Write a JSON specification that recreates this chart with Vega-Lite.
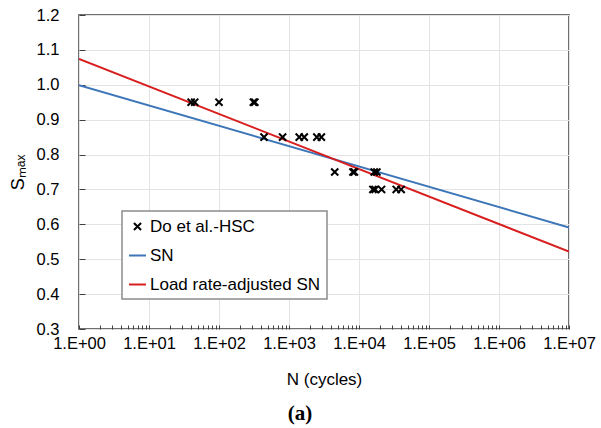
{
  "$schema": "https://vega.github.io/schema/vega-lite/v6.json",
  "width": 490,
  "height": 314,
  "autosize": {"type": "none"},
  "padding": {"left": 79, "top": 15, "right": 32, "bottom": 99},
  "config": {
    "view": {"stroke": "#404040", "strokeWidth": 1.5},
    "font": "Liberation Sans",
    "legend": {
      "orient": "none",
      "legendX": 43,
      "legendY": 196,
      "strokeColor": "#8c8c8c",
      "strokeWidth": 1.5,
      "fillColor": "#ffffff",
      "padding": 6,
      "labelFontSize": 17,
      "labelFont": "Liberation Sans",
      "labelColor": "#000000",
      "symbolSize": 289,
      "symbolStrokeWidth": 2,
      "rowPadding": 11,
      "labelOffset": 3,
      "labelLimit": 300
    }
  },
  "title": {
    "text": "(a)",
    "orient": "bottom",
    "anchor": "middle",
    "dx": -24,
    "font": "Liberation Serif",
    "fontWeight": "bold",
    "fontSize": 21,
    "color": "#000000",
    "offset": 15
  },
  "datasets": {
    "lines": [
      {"series": "SN", "N": 1, "S": 0.999},
      {"series": "SN", "N": 10000000, "S": 0.591},
      {"series": "Load rate-adjusted SN", "N": 1, "S": 1.074},
      {"series": "Load rate-adjusted SN", "N": 10000000, "S": 0.522}
    ],
    "points": [
      {"series": "Do et al.-HSC", "N": 40, "S": 0.95},
      {"series": "Do et al.-HSC", "N": 45, "S": 0.95},
      {"series": "Do et al.-HSC", "N": 100, "S": 0.95},
      {"series": "Do et al.-HSC", "N": 310, "S": 0.95},
      {"series": "Do et al.-HSC", "N": 325, "S": 0.95},
      {"series": "Do et al.-HSC", "N": 440, "S": 0.85},
      {"series": "Do et al.-HSC", "N": 810, "S": 0.85},
      {"series": "Do et al.-HSC", "N": 1400, "S": 0.85},
      {"series": "Do et al.-HSC", "N": 1650, "S": 0.85},
      {"series": "Do et al.-HSC", "N": 2500, "S": 0.85},
      {"series": "Do et al.-HSC", "N": 2900, "S": 0.85},
      {"series": "Do et al.-HSC", "N": 4500, "S": 0.75},
      {"series": "Do et al.-HSC", "N": 8200, "S": 0.75},
      {"series": "Do et al.-HSC", "N": 8600, "S": 0.75},
      {"series": "Do et al.-HSC", "N": 16500, "S": 0.75},
      {"series": "Do et al.-HSC", "N": 18000, "S": 0.75},
      {"series": "Do et al.-HSC", "N": 15800, "S": 0.7},
      {"series": "Do et al.-HSC", "N": 17000, "S": 0.7},
      {"series": "Do et al.-HSC", "N": 21000, "S": 0.7},
      {"series": "Do et al.-HSC", "N": 34000, "S": 0.7},
      {"series": "Do et al.-HSC", "N": 40000, "S": 0.7}
    ]
  },
  "encoding": {
    "x": {
      "field": "N",
      "type": "quantitative",
      "scale": {"type": "log", "domain": [1, 10000000], "nice": false},
      "axis": {
        "title": "N (cycles)",
        "titleFontSize": 17,
        "titleFontWeight": "normal",
        "titleColor": "#000000",
        "titlePadding": 20,
        "values": [1,2,3,4,5,6,7,8,9,10,20,30,40,50,60,70,80,90,100,200,300,400,500,600,700,800,900,1000,2000,3000,4000,5000,6000,7000,8000,9000,10000,20000,30000,40000,50000,60000,70000,80000,90000,100000,200000,300000,400000,500000,600000,700000,800000,900000,1000000,2000000,3000000,4000000,5000000,6000000,7000000,8000000,9000000,10000000],
        "labelExpr": "abs(log(datum.value)/LN10 - round(log(datum.value)/LN10)) < 0.001 ? '1.E+' + format(round(log(datum.value)/LN10), '02d') : ''",
        "labelFontSize": 16.5,
        "labelColor": "#000000",
        "labelFlush": false,
        "labelOverlap": false,
        "labelBound": false,
        "labelPadding": 10,
        "tickSize": -4,
        "tickColor": "#404040",
        "tickWidth": 1,
        "domain": false,
        "grid": true,
        "gridColor": "#e3e3e3",
        "gridWidth": 1,
        "gridOpacity": {
          "condition": {"test": "abs(log(datum.value)/LN10 - round(log(datum.value)/LN10)) < 0.001", "value": 1},
          "value": 0
        }
      }
    },
    "y": {
      "field": "S",
      "type": "quantitative",
      "scale": {"domain": [0.3, 1.2], "nice": false, "zero": false},
      "axis": {
        "title": "Sₘₐₓ",
        "titleFontSize": 18,
        "titleFontWeight": "normal",
        "titleColor": "#000000",
        "titlePadding": 9,
        "values": [0.3, 0.4, 0.5, 0.6, 0.7, 0.8, 0.9, 1.0, 1.1, 1.2],
        "format": ".1f",
        "labelFontSize": 16.5,
        "labelColor": "#000000",
        "labelPadding": 26,
        "labelFlush": false,
        "tickSize": -6,
        "tickColor": "#404040",
        "domain": false,
        "grid": true,
        "gridColor": "#e3e3e3",
        "gridWidth": 1
      }
    },
    "color": {
      "field": "series",
      "type": "nominal",
      "scale": {
        "domain": ["Do et al.-HSC", "SN", "Load rate-adjusted SN"],
        "range": ["#000000", "#3c76b9", "#d81e1e"]
      },
      "legend": {"title": null}
    }
  },
  "layer": [
    {
      "data": {"name": "lines"},
      "mark": {"type": "line", "strokeWidth": 2, "clip": true},
      "encoding": {"detail": {"field": "series"}}
    },
    {
      "data": {"name": "points"},
      "mark": {"type": "point", "filled": false, "strokeWidth": 2, "size": 289, "opacity": 1},
      "encoding": {
        "shape": {
          "field": "series",
          "type": "nominal",
          "scale": {
            "domain": ["Do et al.-HSC", "SN", "Load rate-adjusted SN"],
            "range": ["M-0.42,-0.42L0.42,0.42M-0.42,0.42L0.42,-0.42", "stroke", "stroke"]
          },
          "legend": {"title": null}
        }
      }
    }
  ]
}
